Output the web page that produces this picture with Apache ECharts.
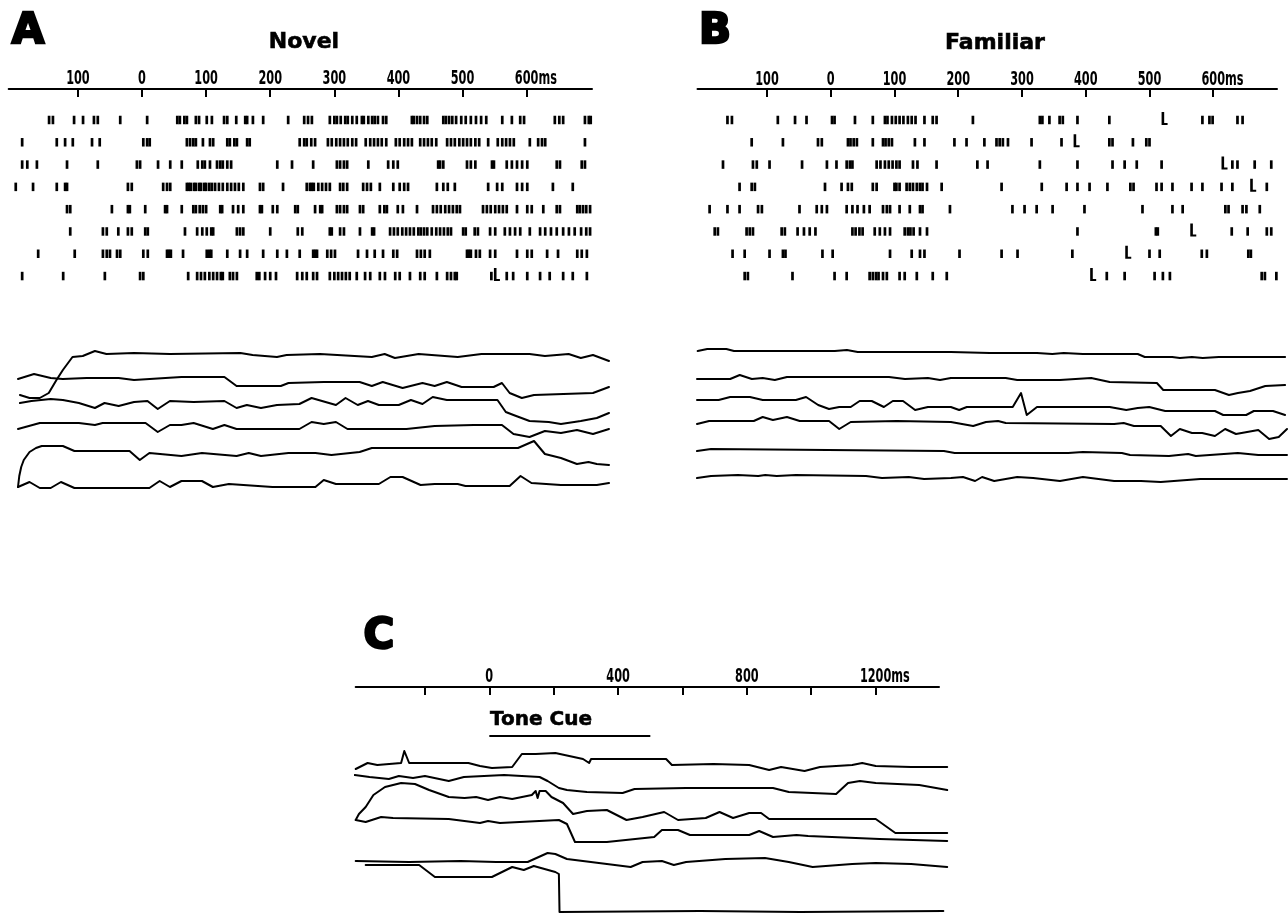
<!DOCTYPE html>
<html>
<head>
<meta charset="utf-8">
<script src="https://cdn.jsdelivr.net/npm/echarts@6/dist/echarts.min.js"></script>
<style>
  html, body { margin: 0; padding: 0; background: #fff; }
  #chart { width: 1288px; height: 917px; }
</style>
</head>
<body>
<div id="chart"></div>
<script>
// ---- Axis ticks and labels (ms) ----
const stimTickValues = [-100, 0, 100, 200, 300, 400, 500, 600];
const toneTickValues = [-200, 0, 200, 400, 600, 800, 1000, 1200];
const toneLabelValues = [0, 400, 800, 1200];
const toneCueSpan = [0, 500];

// ---- Novel stimulus: spike times (ms) per trial ----
const novelSpikes = [
  [-145,-139,-106,-92,-75,-69,-34,8,55,59,66,70,84,89,101,109,128,133,147,161,164,173,189,228,253,259,265,293,300,304,310,317,321,328,335,343,346,353,359,363,368,376,381,421,424,429,434,440,445,470,474,479,484,490,498,505,513,521,529,537,562,577,590,596,644,651,657,691,697,700],
  [-187,-133,-120,-108,-78,-66,2,8,12,70,75,80,84,95,106,111,133,137,144,148,164,168,246,253,257,264,270,290,296,303,309,315,321,328,334,349,356,362,368,374,381,396,402,409,415,421,434,440,446,452,459,476,482,488,495,501,507,513,520,526,540,555,562,568,574,580,605,618,624,629,691],
  [-187,-179,-164,-117,-69,-8,-3,25,44,62,87,94,98,106,117,122,126,133,139,211,234,267,304,309,315,320,353,384,392,399,462,465,470,507,513,520,546,549,569,577,585,593,601,647,652,686,691],
  [-197,-170,-133,-120,-117,-22,-16,33,39,44,70,73,76,81,84,89,92,97,100,105,109,114,120,126,133,139,145,151,158,184,189,220,257,262,265,268,275,281,287,293,309,314,320,345,351,357,371,392,402,409,415,460,470,477,488,540,554,562,585,593,601,641,672],
  [-117,-112,-47,-22,-19,5,36,39,62,80,84,90,95,100,122,125,142,150,158,184,187,204,211,239,243,270,278,281,304,309,315,320,340,345,371,378,382,399,407,429,454,460,466,473,479,485,491,496,532,538,544,551,557,563,569,585,601,608,626,647,652,679,683,688,693,699],
  [-112,-61,-55,-37,-22,-16,5,9,67,86,94,101,108,111,148,153,158,200,243,250,293,296,309,315,340,359,362,387,393,399,406,412,418,424,431,435,440,445,452,459,465,471,477,482,501,505,519,524,543,551,566,574,582,590,605,621,629,638,647,657,666,675,685,693,699],
  [-162,-105,-61,-55,-50,-39,-34,2,9,39,42,45,64,101,105,108,133,153,164,189,211,226,246,267,270,273,289,295,301,337,351,363,376,392,398,429,435,441,449,507,510,513,521,527,543,551,585,601,608,632,649,679,686,694],
  [-187,-123,-58,-3,2,72,86,92,98,105,111,117,123,126,137,142,148,179,183,192,200,209,242,250,257,267,273,293,300,306,312,318,324,335,348,356,371,379,395,402,418,434,441,460,476,482,488,491,545,569,579,601,621,636,657,672,694]
];
// response markers: [time ms, trial index]
const novelMarkers = [[551, 7]];

// ---- Familiar stimulus: spike times (ms) per trial ----
const familiarSpikes = [
  [-162,-155,-83,-56,-38,2,6,38,66,85,89,96,102,108,114,121,127,133,147,160,166,223,328,332,343,359,364,387,437,583,594,599,638,646],
  [-124,-75,-20,-14,27,31,36,41,66,82,86,91,96,132,147,194,213,241,260,265,270,278,315,362,437,442,474,495,500],
  [-169,-122,-116,-96,-45,-6,9,25,30,34,72,78,85,91,97,103,108,129,136,166,230,246,328,387,442,461,480,519,630,638,665,691],
  [-143,-124,-119,-9,17,27,33,66,72,100,103,108,119,124,129,135,140,144,151,174,268,331,370,387,406,434,470,475,511,519,536,566,583,613,630,684],
  [-190,-162,-143,-114,-108,-49,-22,-14,-6,25,34,42,52,61,82,88,93,108,124,140,144,187,285,304,323,348,398,489,536,552,619,624,646,652,673],
  [-182,-177,-132,-127,-122,-77,-72,-52,-42,-33,-24,34,39,45,50,69,77,85,93,116,121,125,130,140,151,387,510,513,629,654,684,691],
  [-154,-135,-96,-75,-71,-13,3,93,127,140,147,202,268,293,379,500,516,582,590,655,659],
  [-135,-130,-60,6,25,61,66,71,75,82,88,108,116,135,160,182,433,461,508,521,532,676,681,699]
];
const familiarMarkers = [[521, 0], [383, 1], [615, 2], [660, 3], [566, 5], [464, 6], [409, 7]];

// ---- Population traces, [time ms, level] ----
const novelTraces = [
  [[-190,97],[-175,94],[-159,94],[-145,99],[-133,112],[-123,122],[-108,135],[-92,136],[-73,141],[-55,138],[-12,139],[44,138],[154,139],[173,137],[211,135],[226,137],[278,138],[359,135],[379,138],[395,134],[432,138],[493,135],[530,138],[605,138],[629,136],[666,138],[685,134],[704,137],[729,131]],
  [[-193,113],[-168,118],[-142,114],[-123,113],[-86,114],[-36,114],[-12,112],[37,114],[62,115],[129,115],[148,106],[217,106],[229,109],[284,110],[340,110],[359,106],[376,110],[407,104],[438,109],[457,106],[476,110],[499,105],[549,105],[562,109],[574,99],[593,94],[612,97],[704,99],[729,105]],
  [[-190,89],[-172,91],[-142,93],[-123,92],[-98,89],[-73,84],[-58,89],[-36,86],[-12,90],[9,91],[25,83],[44,91],[81,90],[129,91],[148,84],[164,87],[186,84],[211,87],[246,88],[265,94],[303,87],[318,94],[337,87],[353,91],[370,87],[401,87],[420,92],[438,88],[454,95],[476,92],[555,92],[568,80],[580,77],[605,71],[635,70],[654,68],[685,71],[710,74],[729,79]],
  [[-193,63],[-159,69],[-98,69],[-73,67],[-61,69],[-12,69],[6,69],[25,60],[44,67],[62,67],[81,69],[111,63],[129,67],[148,63],[246,63],[265,70],[284,68],[303,70],[321,63],[413,63],[457,66],[518,67],[562,67],[580,58],[605,55],[629,61],[654,59],[679,62],[704,58],[729,63]],
  [[-193,5],[-191,16],[-188,25],[-184,32],[-175,40],[-165,44],[-156,46],[-123,46],[-105,41],[-19,41],[-3,32],[12,39],[62,36],[94,39],[148,36],[167,39],[186,36],[229,39],[271,39],[296,37],[340,40],[359,44],[587,44],[612,51],[629,38],[654,34],[679,28],[697,30],[710,28],[729,27]],
  [[-193,5],[-175,10],[-159,4],[-142,4],[-126,10],[-105,4],[12,4],[28,11],[44,5],[62,11],[94,11],[111,5],[136,8],[204,5],[271,5],[284,12],[303,8],[370,8],[388,15],[407,15],[435,7],[457,8],[493,8],[505,6],[574,6],[591,16],[608,9],[654,7],[710,7],[729,9]]
];
const familiarTraces = [
  [[-209,141],[-194,143],[-164,143],[-152,141],[6,141],[25,142],[42,140],[188,140],[249,139],[268,139],[298,139],[323,139],[347,138],[365,139],[395,138],[481,138],[492,135],[535,135],[547,134],[566,135],[583,134],[608,135],[712,135]],
  [[-210,113],[-158,113],[-143,117],[-124,113],[-107,114],[-88,112],[-69,115],[91,115],[116,113],[152,114],[171,112],[188,114],[274,114],[292,112],[359,112],[408,114],[437,110],[511,109],[521,102],[602,102],[624,97],[638,99],[657,101],[681,106],[712,107]],
  [[-210,92],[-176,92],[-158,95],[-127,95],[-107,92],[-55,92],[-39,95],[-20,87],[-3,83],[13,85],[31,85],[45,91],[64,91],[83,85],[97,91],[113,91],[132,82],[152,85],[188,85],[201,82],[213,85],[285,85],[298,99],[307,77],[323,85],[437,85],[463,82],[481,84],[499,85],[524,81],[602,81],[615,77],[651,77],[663,81],[693,81],[712,77]],
  [[-210,68],[-191,71],[-121,71],[-107,75],[-91,72],[-69,75],[-49,71],[-3,71],[13,63],[31,70],[103,71],[188,70],[223,66],[243,70],[262,71],[274,69],[444,68],[459,69],[475,66],[517,66],[533,56],[547,63],[566,59],[582,59],[602,56],[618,63],[635,58],[670,62],[687,53],[702,55],[715,63]],
  [[-210,41],[-188,43],[177,41],[194,39],[372,39],[395,40],[456,39],[469,37],[530,36],[560,38],[572,36],[638,39],[670,37],[715,37]],
  [[-210,14],[-188,16],[-146,17],[-114,16],[-103,17],[-85,16],[-55,17],[55,16],[80,14],[122,15],[146,13],[188,14],[207,15],[226,11],[237,15],[256,11],[292,15],[317,14],[359,11],[395,15],[444,11],[486,11],[517,10],[579,13],[715,13]]
];
const toneTraces = [
  [[-415,148],[-378,154],[-348,152],[-274,154],[-264,166],[-249,154],[-65,154],[-29,151],[8,149],[71,150],[101,163],[144,163],[205,164],[291,158],[310,154],[316,158],[549,158],[567,152],[696,153],[807,152],[869,147],[906,150],[979,146],[1027,150],[1127,152],[1158,154],[1200,151],[1310,150],[1422,150]],
  [[-418,142],[-372,140],[-312,138],[-281,141],[-237,139],[-200,141],[-126,136],[-79,140],[46,142],[156,140],[181,136],[216,129],[241,127],[303,125],[414,124],[451,128],[611,129],[881,129],[930,125],[1077,123],[1114,134],[1151,136],[1200,134],[1335,132],[1422,127]],
  [[-415,97],[-405,103],[-384,110],[-360,122],[-324,130],[-274,134],[-231,133],[-187,127],[-126,120],[-77,119],[-41,120],[-4,117],[33,120],[71,118],[132,122],[144,126],[150,119],[156,126],[175,126],[193,120],[229,114],[260,103],[303,106],[365,107],[426,97],[476,100],[543,105],[586,97],[672,99],[715,105],[757,99],[807,104],[844,104],[869,98],[1200,98],[1261,84],[1422,84]],
  [[-415,97],[-384,95],[-336,100],[-299,99],[-126,98],[-29,94],[-4,96],[33,94],[216,97],[241,93],[266,75],[365,75],[512,80],[536,87],[586,87],[623,82],[807,82],[838,86],[881,80],[954,82],[990,81],[1212,78],[1422,76]],
  [[-415,56],[-249,55],[-89,56],[21,55],[119,55],[181,64],[205,63],[241,58],[365,53],[439,50],[476,55],[536,56],[573,52],[611,55],[733,58],[856,59],[930,55],[1004,50],[1127,53],[1200,54],[1310,53],[1422,50]],
  [[-384,52],[-218,52],[-169,40],[8,40],[71,50],[107,47],[138,51],[205,45],[216,43],[218,5],[655,6],[966,5],[1410,6]]
];

// ---- Styling ----
const NUM_FONT_CSS = "bold 19px 'DejaVu Sans Condensed', 'DejaVu Sans', sans-serif";
const NUM_SQUEEZE = 0.66;          // horizontal squeeze for the tall, narrow tick numerals
const TITLE_FONT = "'DejaVu Sans', 'Liberation Sans', sans-serif";
const INK = '#000';

const measureCtx = document.createElement('canvas').getContext('2d');
measureCtx.font = NUM_FONT_CSS;

function timeAxis(gridIndex, min, max, tickValues) {
  return {
    gridIndex, type: 'value', position: 'top', min, max,
    axisLine: { show: true, onZero: false, lineStyle: { color: INK, width: 2 } },
    axisTick: { show: true, inside: true, length: 8, customValues: tickValues,
                lineStyle: { color: INK, width: 2 } },
    axisLabel: { show: false },
    splitLine: { show: false }
  };
}
function hiddenX(gridIndex, min, max) {
  return { gridIndex, type: 'value', min, max, show: false, splitLine: { show: false } };
}
function hiddenY(gridIndex, min, max, inverse) {
  return { gridIndex, type: 'value', min, max, inverse: !!inverse, show: false, splitLine: { show: false } };
}

function rasterSeries(trials, axisIndex) {
  const data = [];
  trials.forEach((row, i) => row.forEach(t => data.push([t, i])));
  return {
    type: 'scatter', xAxisIndex: axisIndex, yAxisIndex: axisIndex, data,
    symbol: 'rect', symbolSize: [2.7, 8.5], silent: true,
    itemStyle: { color: INK, opacity: 1 }
  };
}
function markerSeries(marks, axisIndex) {
  return {
    type: 'scatter', xAxisIndex: axisIndex, yAxisIndex: axisIndex, data: marks,
    symbol: 'path://M0,0L2.6,0L2.6,11L6,11L6,13L0,13Z', symbolKeepAspect: false,
    symbolSize: [6, 13], symbolOffset: [1.7, -1.5], silent: true,
    itemStyle: { color: INK, opacity: 1 }
  };
}
function traceSeries(traces, axisIndex) {
  return traces.map(tr => ({
    type: 'line', xAxisIndex: axisIndex, yAxisIndex: axisIndex, data: tr,
    showSymbol: false, symbol: 'none', silent: true, clip: false,
    lineStyle: { color: INK, width: 2, join: 'round', cap: 'round' }
  }));
}

function heading(text, x, y, size, strokeWidth, align) {
  return {
    type: 'text', silent: true,
    style: {
      text, x, y, align: align || 'center', verticalAlign: 'middle',
      font: 'bold ' + size + 'px ' + TITLE_FONT, fill: INK,
      stroke: INK, lineWidth: strokeWidth
    }
  };
}

const ROW_TOP = -1.39, ROW_BOTTOM = 7.5;

const option = {
  animation: false,
  backgroundColor: '#fff',
  grid: [
    { left: 8.7, top: 89, width: 583.3, height: 198.2, outerBoundsMode: 'none', containLabel: false },
    { left: 18, top: 342, width: 591, height: 150, outerBoundsMode: 'none', containLabel: false },
    { left: 697.5, top: 89, width: 579.5, height: 198.2, outerBoundsMode: 'none', containLabel: false },
    { left: 697, top: 342, width: 590, height: 150, outerBoundsMode: 'none', containLabel: false },
    { left: 355.7, top: 687, width: 583.3, height: 20, outerBoundsMode: 'none', containLabel: false },
    { left: 355.7, top: 725, width: 591.5, height: 192, outerBoundsMode: 'none', containLabel: false }
  ],
  xAxis: [
    timeAxis(0, -208, 702, stimTickValues),
    hiddenX(1, -193, 729),
    timeAxis(2, -209, 700, stimTickValues),
    hiddenX(3, -210, 715),
    timeAxis(4, -415, 1397, toneTickValues),
    hiddenX(5, -415, 1422)
  ],
  yAxis: [
    hiddenY(0, ROW_TOP, ROW_BOTTOM, true),
    hiddenY(1, 0, 150),
    hiddenY(2, ROW_TOP, ROW_BOTTOM, true),
    hiddenY(3, 0, 150),
    hiddenY(4, 0, 1),
    hiddenY(5, 0, 192)
  ],
  series: [
    rasterSeries(novelSpikes, 0),
    markerSeries(novelMarkers, 0),
    ...traceSeries(novelTraces, 1),
    rasterSeries(familiarSpikes, 2),
    markerSeries(familiarMarkers, 2),
    ...traceSeries(familiarTraces, 3),
    ...traceSeries(toneTraces, 5),
    {
      type: 'line', xAxisIndex: 5, yAxisIndex: 5, silent: true, showSymbol: false, symbol: 'none',
      data: [[toneCueSpan[0], 181], [toneCueSpan[1], 181]],
      lineStyle: { color: INK, width: 2 }
    }
  ]
};

const chart = echarts.init(document.getElementById('chart'), null, { renderer: 'canvas' });
chart.setOption(option);

// Tick numerals placed through each axis's own scale; the unit "ms" trails the last number
function tickNumbers(xAxisIndex, values, unitValue, y) {
  return values.map(v => {
    const px = chart.convertToPixel({ xAxisIndex }, v);
    const num = String(Math.abs(v));
    const isLast = v === unitValue;
    const text = isLast ? num + 'ms' : num;
    const shift = isLast ? -measureCtx.measureText(num).width / 2 : 0;
    return {
      type: 'text', silent: true, x: px, y, scaleX: NUM_SQUEEZE, scaleY: 1,
      style: {
        text, x: shift, y: 0, align: isLast ? 'left' : 'center', verticalAlign: 'middle',
        font: NUM_FONT_CSS, fill: INK
      }
    };
  });
}

chart.setOption({
  graphic: [
    heading('A', 28, 32, 42, 2.5),
    heading('B', 715, 32, 42, 2.5),
    heading('C', 379, 637, 42, 2.5),
    heading('Novel', 304, 42, 22, 0.6),
    heading('Familiar', 995, 43, 22, 0.6),
    heading('Tone Cue', 490, 720, 20, 0.6, 'left'),
    ...tickNumbers(0, stimTickValues, 600, 79),
    ...tickNumbers(2, stimTickValues, 600, 80),
    ...tickNumbers(4, toneLabelValues, 1200, 677)
  ]
});
</script>
</body>
</html>
